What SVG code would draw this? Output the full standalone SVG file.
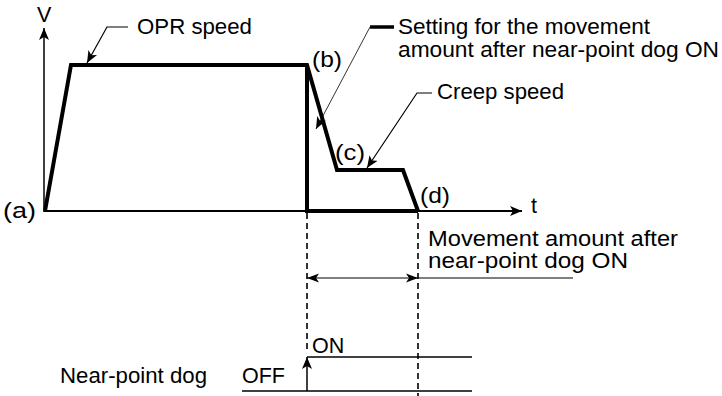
<svg xmlns="http://www.w3.org/2000/svg" width="722" height="396" viewBox="0 0 722 396">
<style>
text{font-family:"Liberation Sans",Arial,sans-serif;font-size:21.5px;fill:#000}
.lbl{font-size:22.5px}
.thin{fill:none;stroke:#000;stroke-width:1.2}
.axis{fill:none;stroke:#000;stroke-width:2}
.thick{fill:none;stroke:#000;stroke-width:4;stroke-linejoin:miter}
.dash{fill:none;stroke:#000;stroke-width:1.6;stroke-dasharray:6,4}
</style>
<defs>
<marker id="ah" markerUnits="userSpaceOnUse" markerWidth="14" markerHeight="10" refX="12" refY="5" orient="auto">
<path d="M0,0 L12,5 L0,10 L3,5 Z" fill="#000"/>
</marker>
<marker id="ahs" markerUnits="userSpaceOnUse" markerWidth="14" markerHeight="10" refX="12" refY="5" orient="auto-start-reverse">
<path d="M0,0.5 L12,5 L0,9.5 L3,5 Z" fill="#000"/>
</marker>
</defs>
<g id="axes">
<line class="axis" x1="44" y1="212" x2="44" y2="28" marker-end="url(#ah)" style="stroke-width:1.5"/>
<line class="axis" x1="44" y1="211" x2="522" y2="211" marker-end="url(#ah)"/>
<text x="37" y="22">V</text>
<text x="531" y="213">t</text>
</g>
<g id="profile">
<path class="thick" d="M45,211 L71,65 L307,65 L337,170 L403,170 L418,211"/>
<path class="thick" d="M307,65 V211 H418"/>
<text class="lbl" x="3" y="218" textLength="33" lengthAdjust="spacingAndGlyphs">(a)</text>
<text class="lbl" x="312" y="67" textLength="30" lengthAdjust="spacingAndGlyphs">(b)</text>
<text class="lbl" x="335" y="160" textLength="30" lengthAdjust="spacingAndGlyphs">(c)</text>
<text class="lbl" x="420" y="203" textLength="30" lengthAdjust="spacingAndGlyphs">(d)</text>
</g>
<g id="opr-speed">
<text x="137" y="34" textLength="115" lengthAdjust="spacingAndGlyphs">OPR speed</text>
</g>
<g id="setting-label">
<line x1="370" y1="27" x2="394" y2="27" stroke="#000" stroke-width="3.5"/>
<text x="398" y="34" textLength="252" lengthAdjust="spacingAndGlyphs">Setting for the movement</text>
<text x="398" y="57" textLength="321" lengthAdjust="spacingAndGlyphs">amount after near-point dog ON</text>
</g>
<g id="creep-speed">
<text x="437" y="99" textLength="127" lengthAdjust="spacingAndGlyphs">Creep speed</text>
</g>
<g id="movement-label">
<text x="428" y="246" textLength="250" lengthAdjust="spacingAndGlyphs">Movement amount after</text>
<text x="428" y="268" textLength="200" lengthAdjust="spacingAndGlyphs">near-point dog ON</text>
</g>
<g id="near-point-dog">
<text x="60" y="383" textLength="147" lengthAdjust="spacingAndGlyphs">Near-point dog</text>
<text x="242" y="383">OFF</text>
<text x="312" y="353">ON</text>
<line class="thin" x1="242" y1="391" x2="472" y2="391" style="stroke-width:1.5"/>
<line class="thin" x1="307" y1="357" x2="472" y2="357" style="stroke-width:1.5"/>
</g>
<g id="connectors">
<path class="thin" d="M128,27 H107 L87,63" marker-end="url(#ah)"/>
<line class="thin" x1="370" y1="27" x2="316" y2="129" marker-end="url(#ah)" style="stroke-width:0.8"/>
<path class="thin" d="M432,93 H417 L367,168" marker-end="url(#ah)"/>
<line class="dash" x1="307" y1="213" x2="307" y2="352"/>
<line class="dash" x1="418" y1="213" x2="418" y2="396"/>
<line class="thin" x1="307" y1="278" x2="418" y2="278" marker-start="url(#ahs)" marker-end="url(#ahs)"/>
<line class="thin" x1="418" y1="278" x2="573" y2="278"/>
<line class="thin" x1="307" y1="391" x2="307" y2="357" marker-end="url(#ah)" style="stroke-width:1.5"/>
</g>
</svg>
